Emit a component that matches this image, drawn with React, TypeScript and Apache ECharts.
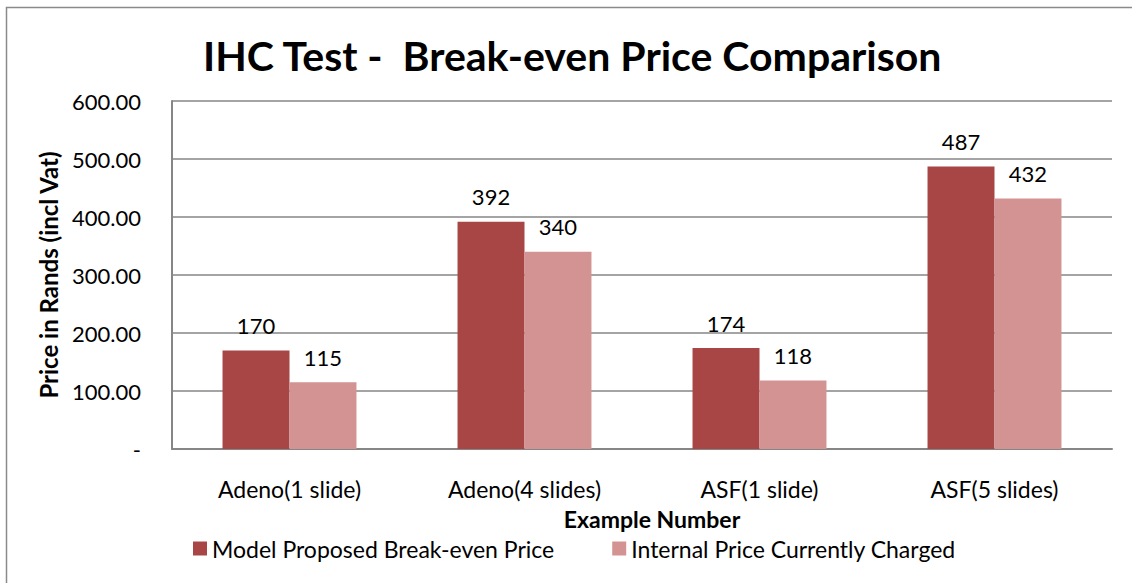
import React, { useEffect, useRef } from "react";
import * as echarts from "echarts";

const categories = ["Adeno(1 slide)", "Adeno(4 slides)", "ASF(1 slide)", "ASF(5 slides)"];
const modelPrice = [170, 392, 174, 487];
const internalPrice = [115, 340, 118, 432];
const seriesNames = ["Model Proposed Break-even Price", "Internal Price Currently Charged"];
const titleText = "IHC Test -  Break-even Price Comparison";
const yAxisName = "Price in Rands (incl Vat)";
const xAxisName = "Example Number";

const FONT = "Lato, 'Open Sans', sans-serif";

export default function App() {
  const ref = useRef<HTMLDivElement>(null);
  useEffect(() => {
    if (!ref.current) return;
    const chart = echarts.init(ref.current, undefined, { renderer: "svg" });
    const labelStyle = {
      show: true,
      position: "top" as const,
      distance: 14,
      fontSize: 22,
      color: "#000",
      fontFamily: FONT,
    };
    chart.setOption({
      animation: false,
      backgroundColor: "#fff",
      textStyle: { fontFamily: FONT },
      title: {
        text: titleText,
        left: 198,
        top: 30,
        textStyle: { fontSize: 41, fontWeight: "bold", color: "#000", fontFamily: FONT },
      },
      graphic: [
        {
          type: "rect",
          shape: { x: 6.5, y: 7.5, width: 1200, height: 700 },
          style: { fill: "none", stroke: "#8a8a8a", lineWidth: 1.5 },
          silent: true,
          z: -1,
        },
      ],
      legend: {
        bottom: 18,
        left: 188,
        itemWidth: 14,
        itemHeight: 14,
        itemGap: 58,
        icon: "rect",
        textStyle: { fontSize: 23, color: "#000", fontFamily: FONT },
        data: seriesNames,
      },
      grid: { left: 172, right: 20, top: 101, bottom: 134 },
      xAxis: {
        type: "category",
        data: categories,
        name: xAxisName,
        nameLocation: "middle",
        nameGap: 58,
        nameTextStyle: {
          fontSize: 23,
          fontWeight: "bold",
          color: "#000",
          fontFamily: FONT,
          padding: [0, 0, 0, 20],
        },
        axisLine: { lineStyle: { color: "#868686", width: 2 } },
        axisTick: { show: false },
        axisLabel: { fontSize: 23, color: "#000", margin: 28, fontFamily: FONT },
      },
      yAxis: {
        type: "value",
        min: 0,
        max: 600,
        interval: 100,
        name: yAxisName,
        nameLocation: "middle",
        nameGap: 112,
        nameRotate: 90,
        nameTextStyle: { fontSize: 24, fontWeight: "bold", color: "#000", fontFamily: FONT },
        axisLine: { show: true, lineStyle: { color: "#868686", width: 2 } },
        axisTick: { show: false },
        splitLine: { lineStyle: { color: "#868686", width: 1.5 } },
        axisLabel: {
          fontSize: 22,
          color: "#000",
          margin: 31,
          fontFamily: FONT,
          formatter: (v: number) => (v === 0 ? "-" : v.toFixed(2)),
        },
      },
      series: [
        {
          name: seriesNames[0],
          type: "bar",
          data: modelPrice,
          barGap: "0%",
          barCategoryGap: "43%",
          itemStyle: { color: "#A84646" },
          label: labelStyle,
        },
        {
          name: seriesNames[1],
          type: "bar",
          data: internalPrice,
          itemStyle: { color: "#D39393" },
          label: labelStyle,
        },
      ],
    });
    return () => chart.dispose();
  }, []);
  return (
    <div
      ref={ref}
      style={{ position: "fixed", left: 0, top: 0, width: 1132, height: 583 }}
    />
  );
}
